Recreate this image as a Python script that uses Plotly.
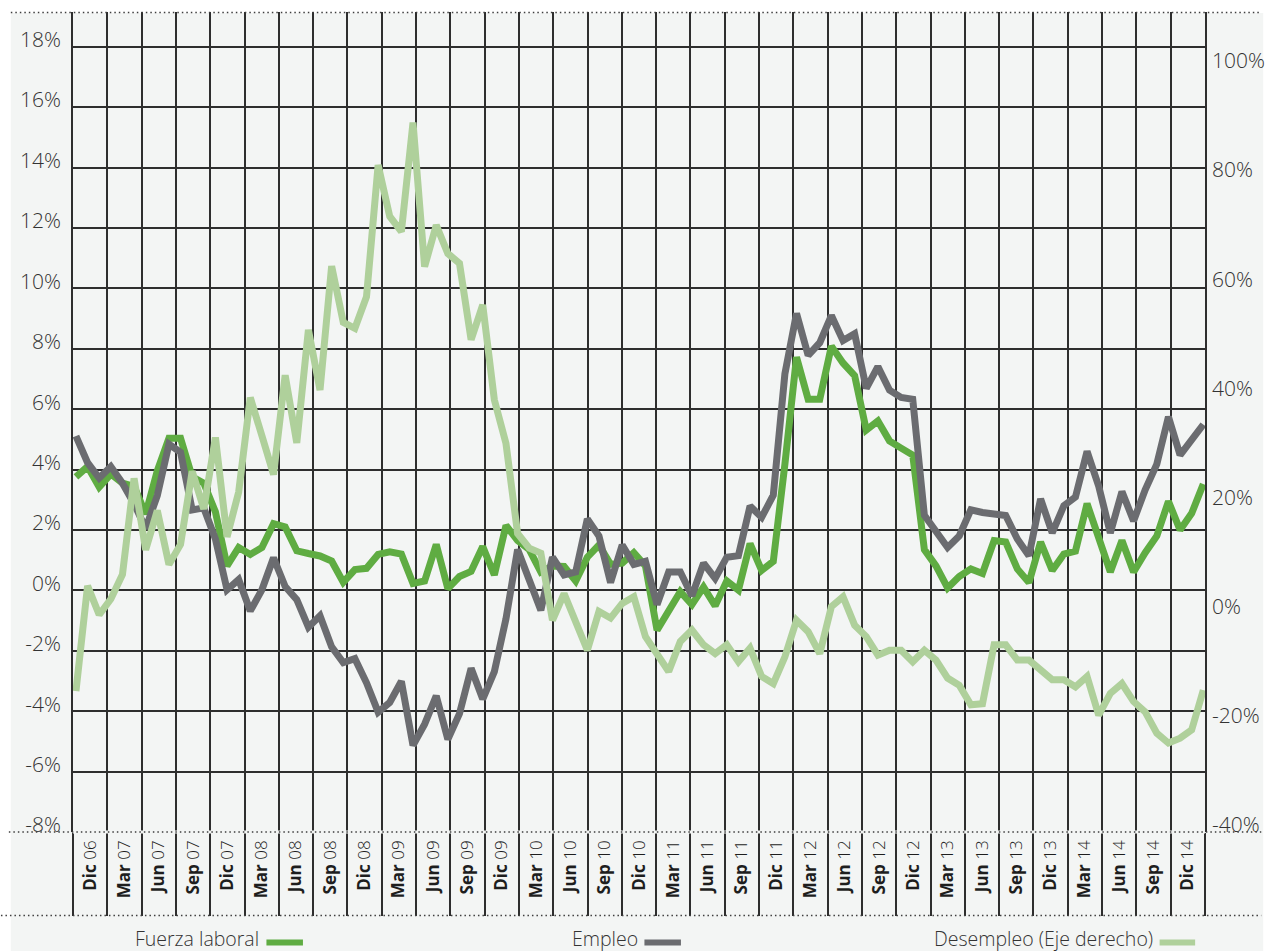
import plotly.graph_objects as go

# ---------------- data (monthly, Dic 06 .. Ene 15) ----------------
quarter_labels = ["Dic 06", "Mar 07", "Jun 07", "Sep 07", "Dic 07", "Mar 08", "Jun 08", "Sep 08",
                  "Dic 08", "Mar 09", "Jun 09", "Sep 09", "Dic 09", "Mar 10", "Jun 10", "Sep 10",
                  "Dic 10", "Mar 11", "Jun 11", "Sep 11", "Dic 11", "Mar 12", "Jun 12", "Sep 12",
                  "Dic 12", "Mar 13", "Jun 13", "Sep 13", "Dic 13", "Mar 14", "Jun 14", "Sep 14",
                  "Dic 14"]

fuerza_laboral = [3.76, 4.10, 3.42, 3.85, 3.55, 3.44, 2.53, 3.96, 5.04, 5.04,
                  3.76, 3.55, 2.60, 0.81, 1.42, 1.19, 1.42, 2.21, 2.10, 1.31,
                  1.22, 1.14, 0.97, 0.27, 0.69, 0.73, 1.19, 1.28, 1.20, 0.23,
                  0.31, 1.52, 0.06, 0.46, 0.63, 1.45, 0.51, 2.15, 1.65, 1.35,
                  0.61, 0.81, 0.79, 0.31, 1.10, 1.50, 0.86, 0.90, 1.25, 0.81,
                  -1.32, -0.71, -0.04, -0.47, 0.11, -0.51, 0.31, 0.01, 1.55, 0.66,
                  0.96, 4.18, 7.72, 6.33, 6.33, 8.08, 7.53, 7.11, 5.31, 5.61,
                  4.95, 4.71, 4.48, 1.35, 0.81, 0.08, 0.46, 0.71, 0.56, 1.65,
                  1.60, 0.71, 0.26, 1.60, 0.66, 1.20, 1.30, 2.87, 1.67, 0.61,
                  1.65, 0.61, 1.25, 1.80, 2.95, 2.00, 2.55, 3.52]

empleo = [5.11, 4.23, 3.72, 4.10, 3.55, 2.87, 2.05, 3.14, 4.84, 4.57,
          2.66, 2.73, 1.70, 0.02, 0.36, -0.68, 0.02, 1.08, 0.13, -0.31,
          -1.22, -0.84, -1.87, -2.39, -2.26, -3.06, -4.03, -3.71, -3.01, -5.13,
          -4.43, -3.49, -4.93, -4.08, -2.58, -3.60, -2.69, -0.94, 1.35, 0.31,
          -0.66, 1.10, 0.51, 0.61, 2.36, 1.80, 0.26, 1.50, 0.86, 0.96,
          -0.47, 0.61, 0.61, -0.18, 0.90, 0.40, 1.10, 1.15, 2.79, 2.42,
          3.15, 7.17, 9.17, 7.78, 8.20, 9.10, 8.27, 8.50, 6.69, 7.41,
          6.63, 6.39, 6.33, 2.49, 1.95, 1.42, 1.80, 2.67, 2.58, 2.55,
          2.48, 1.70, 1.15, 3.03, 1.90, 2.80, 3.09, 4.60, 3.45, 1.90,
          3.27, 2.30, 3.33, 4.18, 5.75, 4.48, 5.01, 5.49]

desempleo = [-14.2, 5.1, -0.2, 2.7, 7.2, 24.8, 11.7, 18.9, 9.0, 12.7,
             26.1, 19.2, 32.3, 14.1, 22.3, 39.6, 32.6, 25.5, 43.7, 31.3,
             52.0, 41.0, 63.7, 53.4, 52.3, 58.1, 82.2, 72.8, 70.0, 90.0,
             63.6, 71.2, 66.0, 64.2, 50.2, 56.6, 39.2, 31.2, 14.7, 12.0,
             11.1, -1.2, 3.7, -1.3, -6.7, 0.4, -0.8, 1.9, 3.1, -4.2,
             -7.6, -10.6, -5.1, -3.0, -5.7, -7.3, -5.7, -8.8, -6.3, -11.5,
             -12.8, -7.9, -1.2, -3.3, -7.3, 1.3, 3.1, -2.1, -4.2, -7.6,
             -6.7, -6.7, -8.8, -6.7, -8.5, -11.8, -13.1, -16.7, -16.5, -5.7,
             -5.7, -8.5, -8.5, -10.3, -12.1, -12.1, -13.4, -11.5, -18.6, -14.6,
             -12.8, -16.1, -18.0, -21.9, -23.7, -22.8, -21.3, -14.0]

left_ticks = [-8, -6, -4, -2, 0, 2, 4, 6, 8, 10, 12, 14, 16, 18]
right_ticks = [-40, -20, 0, 20, 40, 60, 80, 100]

series_names = ["Fuerza laboral", "Empleo", "Desempleo (Eje derecho)"]

# ---------------- styling / geometry ----------------
W, H = 1277, 951
ML, MR, MT, MB = 73, 57, 12, 119
PW, PH = W - ML - MR, H - MT - MB
MONTH_PX = 11.776           # horizontal pixels per month
X0 = -3.0 / MONTH_PX
X1 = X0 + PW / MONTH_PX
CELL = (X1 - X0) / len(quarter_labels)
LEFT_RANGE = [-8, 19.15]
RIGHT_RANGE = [-40, 110.26]

C_FUERZA = "#5fac42"
C_EMPLEO = "#6b6c70"
C_DESEMP = "#afd09b"
GRID = "#2e2e2e"
BG = "#f3f5f4"
TXT = "#333333"
FONT = "Open Sans"
LW = 7

def px_x(px):
    return (px - ML) / PW

def px_y(py):
    return (H - MB - py) / PH

months = list(range(len(fuerza_laboral)))

fig = go.Figure()
fig.add_trace(go.Scatter(x=months, y=fuerza_laboral, name=series_names[0], mode="lines",
                         line=dict(color=C_FUERZA, width=LW), yaxis="y"))
fig.add_trace(go.Scatter(x=months, y=empleo, name=series_names[1], mode="lines",
                         line=dict(color=C_EMPLEO, width=LW), yaxis="y"))
fig.add_trace(go.Scatter(x=months, y=desempleo, name=series_names[2], mode="lines",
                         line=dict(color=C_DESEMP, width=LW), yaxis="y2"))

centers = [X0 + (k + 0.5) * CELL for k in range(len(quarter_labels))]
bounds = [X0 + k * CELL for k in range(len(quarter_labels) + 1)]
ticktext = []
for q in quarter_labels:
    m, yy = q.split(" ")
    ticktext.append(f"<b>{m}</b> <span style='font-weight:300'>{yy}</span>")

fig.update_layout(
    width=W, height=H,
    margin=dict(l=ML, r=MR, t=MT, b=MB, pad=0),
    paper_bgcolor="white",
    plot_bgcolor="rgba(0,0,0,0)",
    showlegend=False,
    font=dict(family=FONT, color=TXT),
    xaxis=dict(range=[X0, X1], tickmode="array", tickvals=centers, ticktext=ticktext,
               tickangle=-90, ticks="", showgrid=False, zeroline=False, showline=False,
               ticklabelstandoff=4,
               tickfont=dict(family=FONT, size=17, color="#1e1e1e"),
               minor=dict(tickmode="array", tickvals=bounds, ticks="outside", ticklen=83,
                          tickwidth=1.5, tickcolor=GRID, showgrid=True,
                          gridcolor=GRID, gridwidth=1.5)),
    yaxis=dict(range=LEFT_RANGE, tickmode="array", tickvals=left_ticks,
               ticktext=[f"{v}%" for v in left_ticks], ticks="",
               ticklabelposition="outside", ticklabelstandoff=6, ticklabelshift=-7,
               showgrid=True, gridcolor=GRID, gridwidth=1.5,
               zeroline=True, zerolinecolor=GRID, zerolinewidth=2.2,
               showline=True, linecolor=GRID, linewidth=1.5,
               tickfont=dict(family=FONT, size=21, color=TXT, weight=300)),
    yaxis2=dict(range=RIGHT_RANGE, overlaying="y", side="right", tickmode="array",
                tickvals=right_ticks, ticktext=[f"{v}%" for v in right_ticks], ticks="",
                ticklabelposition="outside", ticklabelstandoff=1, ticklabelshift=-7,
                showgrid=False, zeroline=False,
                showline=True, linecolor=GRID, linewidth=1.5,
                tickfont=dict(family=FONT, size=21, color=TXT, weight=300)),
)

shapes = []
# page background panel
shapes.append(dict(type="rect", xref="paper", yref="paper", layer="below",
                   x0=px_x(10), x1=px_x(W + 2), y0=px_y(H + 2), y1=px_y(13),
                   fillcolor=BG, line=dict(width=0)))
# cover the solid bottom gridline, then dotted rules
shapes.append(dict(type="line", xref="paper", yref="paper", layer="above",
                   x0=0, x1=1, y0=px_y(832), y1=px_y(832),
                   line=dict(color=BG, width=3)))
for (xa, yy) in [(10, 12.5), (8, 832), (0, 915.5)]:
    shapes.append(dict(type="line", xref="paper", yref="paper", layer="above",
                       x0=px_x(xa), x1=px_x(W), y0=px_y(yy), y1=px_y(yy),
                       line=dict(color="#3e3e3e", width=1.7, dash="1.5px,3px")))
# legend swatches (placed after the text, as in the original)
legend_spots = [(263, 269, 306, C_FUERZA), (648, 652, 689, C_EMPLEO), (1169, 1174, 1210, C_DESEMP)]
annotations = []
for name, (tx, sx0, sx1, col) in zip(series_names, legend_spots):
    annotations.append(dict(text=name, xref="paper", yref="paper", x=px_x(tx), y=px_y(939),
                            xanchor="right", yanchor="middle", showarrow=False,
                            font=dict(family=FONT, size=19.5, color=TXT, weight=300)))
    shapes.append(dict(type="rect", xref="paper", yref="paper", layer="above",
                       x0=px_x(sx0), x1=px_x(sx1), y0=px_y(945.5), y1=px_y(939.5),
                       fillcolor=col, line=dict(width=0)))

fig.update_layout(shapes=shapes, annotations=annotations)

fig.write_html("out.html", config={"displayModeBar": False},
               post_script="document.body.style.margin='0px';document.body.style.overflow='hidden';")
